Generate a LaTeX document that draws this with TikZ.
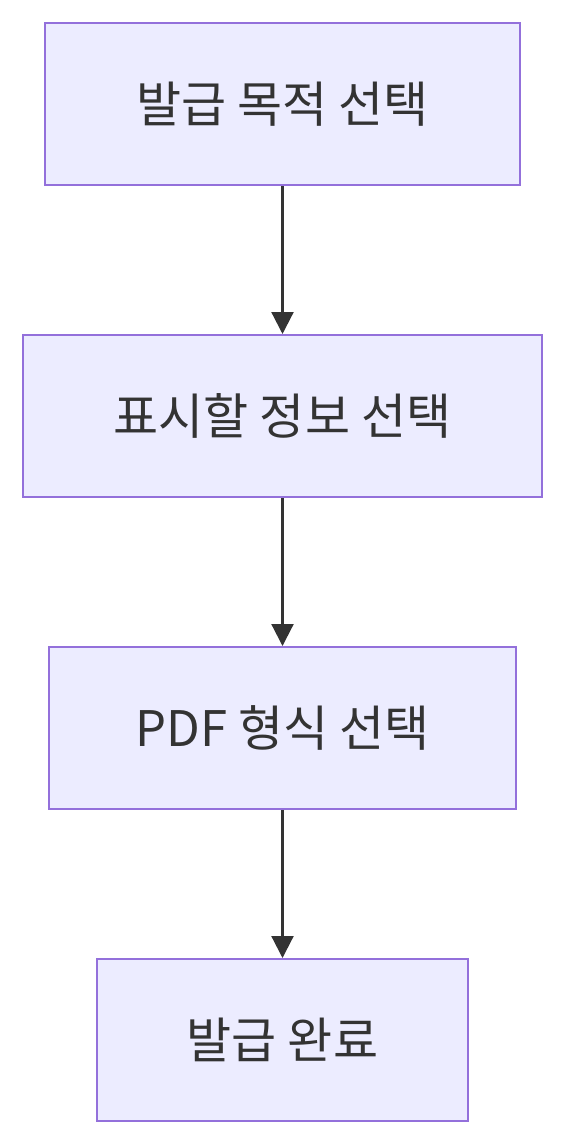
\documentclass[tikz,border=0pt]{standalone}
\usepackage{fontspec}
\setmainfont{Noto Sans CJK KR}
\usetikzlibrary{arrows.meta}
\definecolor{boxfill}{HTML}{ECECFF}
\definecolor{boxline}{HTML}{9370DB}
\definecolor{arr}{HTML}{333333}
\begin{document}
\begin{tikzpicture}[x=1pt,y=-1pt,
  stepbox/.style={draw=boxline,fill=boxfill,line width=2pt,minimum height=162pt,inner sep=0pt,font=\fontsize{49}{58}\selectfont,text=arr},
  flow/.style={draw=arr,line width=2.2pt,-{Triangle[length=22pt,width=22pt]}}]
\useasboundingbox (0,0) rectangle (566,1146);
\node[stepbox,minimum width=475pt] (a) at (282.5,104) {발급 목적 선택};
\node[stepbox,minimum width=519pt] (b) at (282.5,416) {표시할 정보 선택};
\node[stepbox,minimum width=467pt] (c) at (282.5,728) {PDF 형식 선택};
\node[stepbox,minimum width=371pt] (d) at (282.5,1040) {발급 완료};
\draw[flow] (a) -- (b);
\draw[flow] (b) -- (c);
\draw[flow] (c) -- (d);
\end{tikzpicture}
\end{document}
